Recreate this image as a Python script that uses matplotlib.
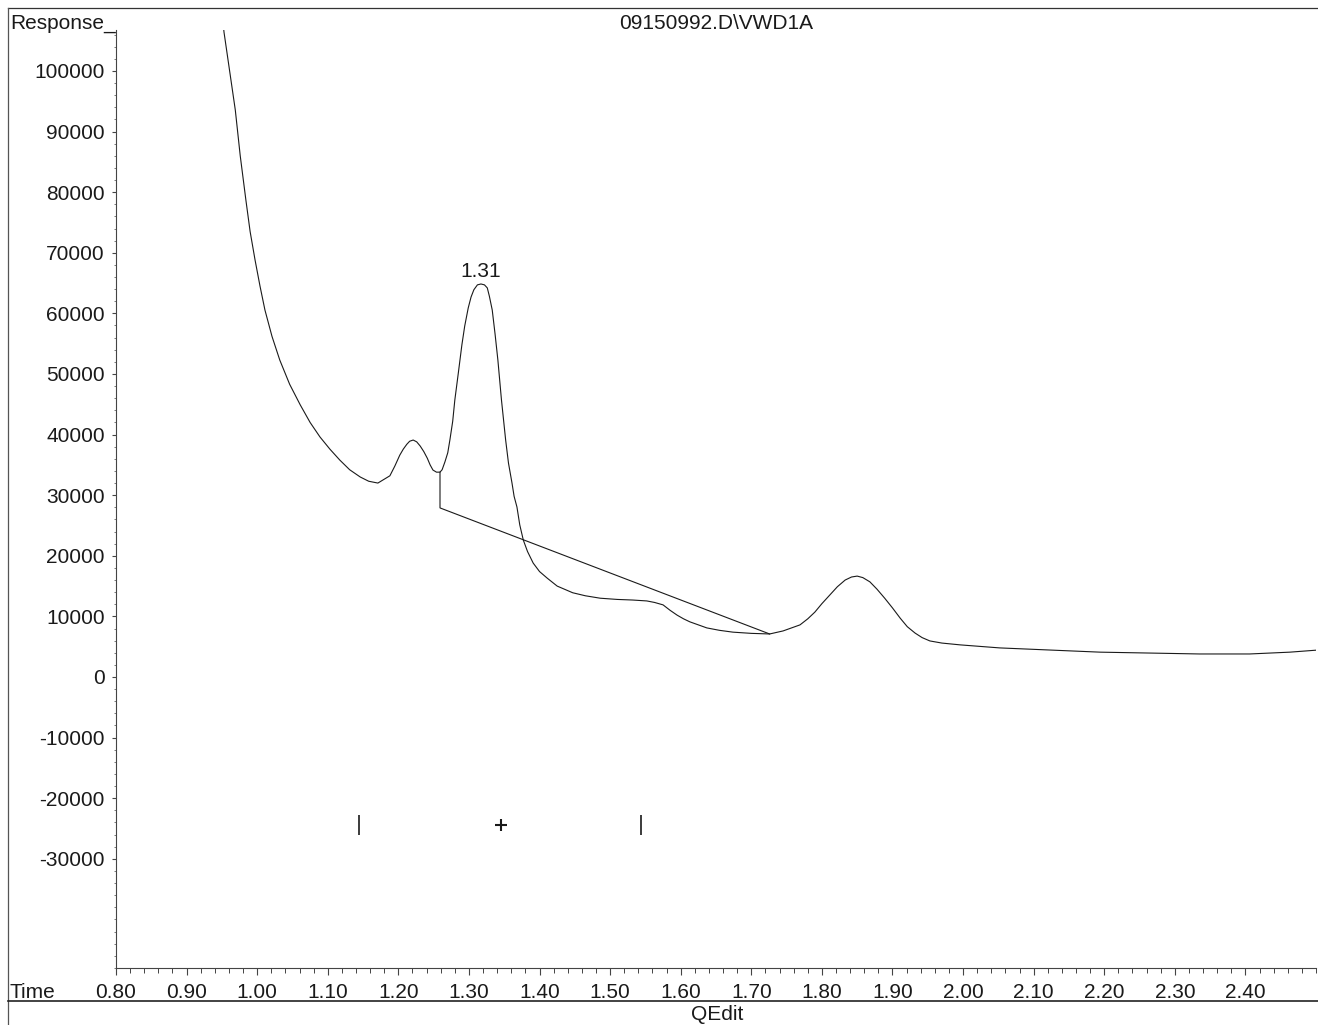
import matplotlib
matplotlib.use("Agg")
import matplotlib.pyplot as plt
from matplotlib.ticker import FixedLocator, MultipleLocator
from matplotlib.lines import Line2D

# ---------------- data ----------------
time_min = [0.950, 0.953, 0.969, 0.976, 0.984, 0.990, 0.997, 1.004, 1.011, 1.021,
            1.032, 1.046, 1.061, 1.075, 1.089, 1.103, 1.117, 1.131, 1.146, 1.158,
            1.171, 1.188, 1.195, 1.202, 1.207, 1.212, 1.216, 1.221, 1.226, 1.231,
            1.236, 1.241, 1.245, 1.249, 1.254, 1.259, 1.262, 1.266, 1.270, 1.273,
            1.277, 1.280, 1.285, 1.290, 1.294, 1.299, 1.303, 1.307, 1.312, 1.317,
            1.322, 1.326, 1.329, 1.333, 1.337, 1.341, 1.346, 1.352, 1.356, 1.361,
            1.364, 1.368, 1.372, 1.377, 1.383, 1.391, 1.400, 1.411, 1.425, 1.447,
            1.465, 1.486, 1.510, 1.532, 1.552, 1.563, 1.575, 1.585, 1.595, 1.604,
            1.613, 1.625, 1.637, 1.655, 1.674, 1.700, 1.726, 1.745, 1.769, 1.780,
            1.790, 1.800, 1.811, 1.822, 1.833, 1.842, 1.850, 1.858, 1.868, 1.878,
            1.889, 1.900, 1.911, 1.921, 1.932, 1.942, 1.953, 1.970, 1.996, 2.052,
            2.123, 2.194, 2.265, 2.335, 2.406, 2.463, 2.503]
response = [110000, 106400, 93560, 86000, 78700, 73500, 68800, 64500, 60550, 56200,
            52300, 48300, 44900, 42000, 39600, 37600, 35800, 34200, 33000, 32300,
            32000, 33200, 34800, 36600, 37600, 38400, 38900, 39100, 38800, 38100,
            37200, 36100, 35000, 34150, 33800, 33800, 34200, 35500, 37000, 39100,
            42200, 45700, 50200, 54800, 57900, 60900, 62700, 63900, 64700, 64850,
            64700, 64200, 62800, 60550, 56600, 52300, 45800, 39100, 35300, 32000,
            29800, 28050, 25100, 22600, 20700, 18800, 17400, 16300, 15000, 13900,
            13400, 13000, 12800, 12700, 12550, 12300, 11900, 11000, 10200, 9600,
            9100, 8600, 8100, 7700, 7400, 7200, 7100, 7600, 8600, 9600,
            10700, 12100, 13500, 14900, 16000, 16500, 16650, 16400, 15700, 14500,
            13000, 11400, 9700, 8300, 7250, 6500, 5950, 5600, 5300, 4800,
            4450, 4100, 3950, 3800, 3800, 4100, 4450]

baseline_time = [1.259, 1.259, 1.726]
baseline_resp = [33800, 27900, 7100]

peak_time = 1.317
peak_resp = 64850
peak_label = "1.31"

event_time = [1.144, 1.345, 1.544]
event_resp = [-24400, -24400, -24400]
event_symbol = ["|", "+", "|"]

x_ticks = [0.80, 0.90, 1.00, 1.10, 1.20, 1.30, 1.40, 1.50, 1.60, 1.70, 1.80,
           1.90, 2.00, 2.10, 2.20, 2.30, 2.40]
y_ticks = [-30000, -20000, -10000, 0, 10000, 20000, 30000, 40000, 50000,
           60000, 70000, 80000, 90000, 100000]

title_text = "09150992.D\\VWD1A"
y_title = "Response_"
x_title = "Time"
footer = "QEdit"

# ---------------- figure ----------------
W, H = 1318, 1025
plt.rcParams['font.family'] = ['Liberation Sans', 'DejaVu Sans']
fig = plt.figure(figsize=(W / 100, H / 100), dpi=100)
ax = fig.add_axes([116 / W, 57 / H, 1200 / W, 938 / H])

ink = "#1a1a1a"
fs = 15
ax.plot(time_min, response, color=ink, lw=0.8)
ax.plot(baseline_time, baseline_resp, color=ink, lw=0.8)
for t, r, s in zip(event_time, event_resp, event_symbol):
    if s == "|":
        ax.plot([t], [r], marker="|", ms=14, mew=1.2, color=ink)
    else:
        ax.plot([t], [r], marker="+", ms=8, mew=1.5, color=ink)
ax.annotate(peak_label, (peak_time, peak_resp), xytext=(0, 2),
            textcoords="offset points", ha="center", va="bottom",
            fontsize=fs, color=ink)

ax.set_xlim(0.80, 2.50)
ax.set_ylim(-48015, 106755)

ax.spines['top'].set_visible(False)
ax.spines['right'].set_visible(False)
ax.spines['left'].set_color("#444444")
ax.spines['bottom'].set_color("#444444")
ax.spines['left'].set_linewidth(0.8)
ax.spines['bottom'].set_linewidth(0.8)

ax.xaxis.set_major_locator(FixedLocator(x_ticks))
ax.set_xticklabels([f"{v:.2f}" for v in x_ticks])
ax.xaxis.set_minor_locator(MultipleLocator(0.02))
ax.yaxis.set_major_locator(FixedLocator(y_ticks))
ax.set_yticklabels([f"{v:d}" for v in y_ticks])
ax.yaxis.set_minor_locator(MultipleLocator(2000))

ax.tick_params(axis='x', which='major', direction='out', length=5, width=0.8,
               color="#444444", labelsize=fs, pad=6, labelcolor=ink)
ax.tick_params(axis='x', which='minor', direction='out', length=3.5, width=0.7,
               color="#444444")
ax.tick_params(axis='y', which='major', direction='out', length=3, width=0.8,
               color="#444444", labelsize=fs, pad=5, labelcolor=ink)
ax.tick_params(axis='y', which='minor', direction='out', length=1.5, width=0.6,
               color="#666666")

# frame / header / footer
fig.add_artist(Line2D([8 / W, 1.0], [1 - 8 / H, 1 - 8 / H], color="#333333", lw=0.9))
fig.add_artist(Line2D([8 / W, 8 / W], [0.0, 1 - 8 / H], color="#555555", lw=0.9))
fig.add_artist(Line2D([8 / W, 1.0], [24 / H, 24 / H], color="#222222", lw=1.2))

fig.text(10 / W, 1 - 29 / H, y_title, ha="left", va="baseline", fontsize=fs, color=ink)
fig.text(716 / W, 1 - 29 / H, title_text, ha="center", va="baseline", fontsize=fs, color=ink)
fig.text(10 / W, 1 - 998 / H, x_title, ha="left", va="baseline", fontsize=fs, color=ink)
fig.text(717 / W, 1 - 1020 / H, footer, ha="center", va="baseline", fontsize=fs, color=ink)

fig.savefig("out.png", dpi=100)
